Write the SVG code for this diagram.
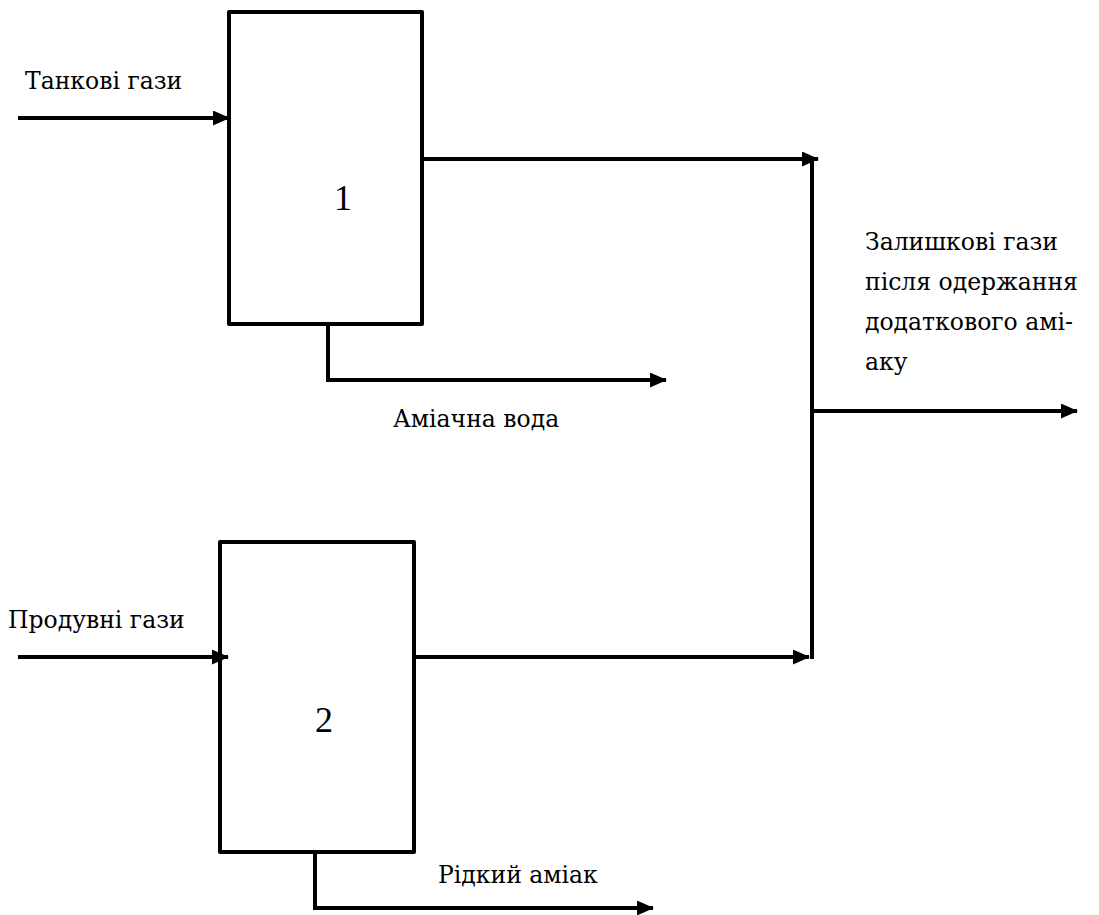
<svg xmlns="http://www.w3.org/2000/svg" width="1099" height="915" viewBox="0 0 1099 915">
<style>
.box{fill:#fff;stroke:#000;stroke-width:4;stroke-linejoin:round}
.ln{fill:none;stroke:#000;stroke-width:4;stroke-linejoin:miter}
.t{font-family:"DejaVu Serif",serif;font-size:23.5px;fill:#000}
.n{font-family:"Liberation Serif",serif;font-size:36px;fill:#000}
</style>
<defs>
<marker id="ah" markerUnits="userSpaceOnUse" markerWidth="17" markerHeight="15" refX="16" refY="7.5" orient="auto">
<path d="M0,0 L17,7.5 L0,15 Z" fill="#000"/>
</marker>
</defs>
<rect width="1099" height="915" fill="#fff"/>
<g id="node1">
<rect class="box" x="229" y="12" width="193" height="312"/>
<text class="n" x="334" y="210">1</text>
</g>
<g id="node2">
<rect class="box" x="220" y="542" width="194" height="310"/>
<text class="n" x="315" y="732">2</text>
</g>
<g id="connectors">
<line class="ln" x1="18" y1="118" x2="229" y2="118" marker-end="url(#ah)"/>
<line class="ln" x1="422" y1="159" x2="818" y2="159" marker-end="url(#ah)"/>
<polyline class="ln" points="328,324 328,380 666,380" marker-end="url(#ah)"/>
<line class="ln" x1="812" y1="161" x2="812" y2="659"/>
<line class="ln" x1="812" y1="411" x2="1077" y2="411" marker-end="url(#ah)"/>
<line class="ln" x1="18" y1="657" x2="228" y2="657" marker-end="url(#ah)"/>
<line class="ln" x1="414" y1="657" x2="809" y2="657" marker-end="url(#ah)"/>
<polyline class="ln" points="315,852 315,908 653,908" marker-end="url(#ah)"/>
</g>
<g id="labels">
<text class="t" x="25" y="89">Танкові гази</text>
<text class="t" x="393" y="427">Аміачна вода</text>
<text class="t" x="8" y="628">Продувні гази</text>
<text class="t" x="438" y="883">Рідкий аміак</text>
<text class="t" x="865" y="250">Залишкові гази</text>
<text class="t" x="865" y="290">після одержання</text>
<text class="t" x="865" y="330">додаткового амі-</text>
<text class="t" x="865" y="370">аку</text>
</g>
</svg>
